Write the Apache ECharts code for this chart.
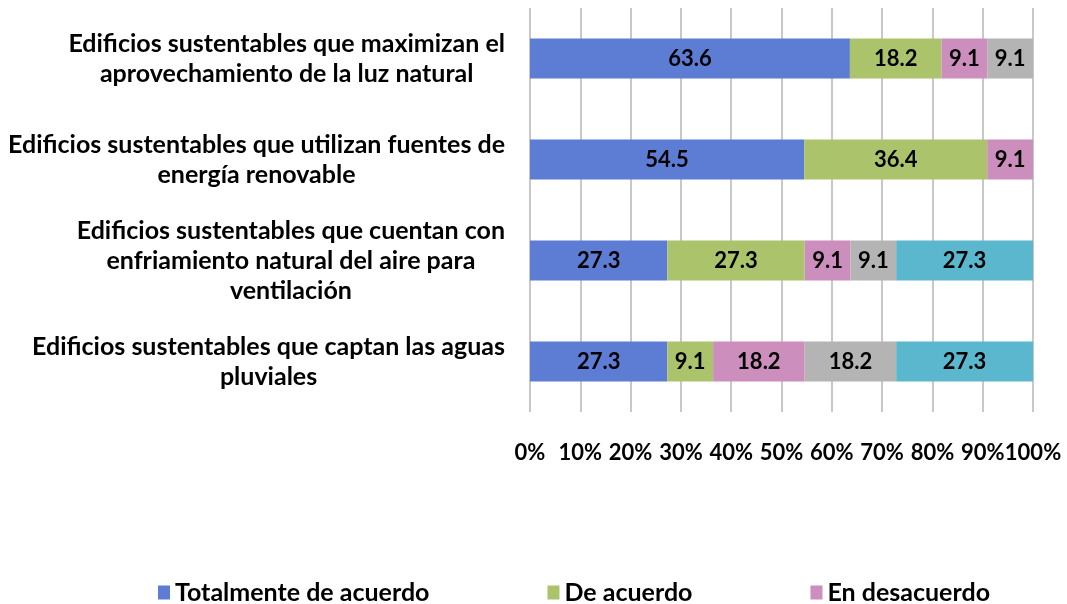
<!DOCTYPE html>
<html>
<head>
<meta charset="utf-8">
<script src="https://cdn.jsdelivr.net/npm/echarts@6/dist/echarts.min.js"></script>
<style>
  html, body { margin: 0; padding: 0; background: #fff; }
  #chart { width: 1067px; height: 604px; }
</style>
</head>
<body>
<div id="chart"></div>
<script>
var categories = [
  'Edificios sustentables que maximizan el\naprovechamiento de la luz natural',
  'Edificios sustentables que utilizan fuentes de\nenergía renovable',
  'Edificios sustentables que cuentan con\nenfriamiento natural del aire para\nventilación',
  'Edificios sustentables que captan las aguas\npluviales'
]
var seriesNames = ['Totalmente de acuerdo', 'De acuerdo', 'En desacuerdo', 'Totalmente en desacuerdo', 'No sabe']
var totalmenteAcuerdo = [63.6, 54.5, 27.3, 27.3]
var deAcuerdo = [18.2, 36.4, 27.3, 9.1]
var enDesacuerdo = [9.1, 9.1, 9.1, 18.2]
var totalmenteDesacuerdo = [9.1, null, 9.1, 18.2]
var noSabe = [null, null, 27.3, 27.3]
var legendNames = ['Totalmente de acuerdo', 'De acuerdo', 'En desacuerdo']

var colors = ['#5d7cd4', '#abc46c', '#cc8ebd', '#b4b4b4', '#5ab7ce']
var values = [totalmenteAcuerdo, deAcuerdo, enDesacuerdo, totalmenteDesacuerdo, noSabe]
var font = 'Lato, "Open Sans", sans-serif'

var chart = echarts.init(document.getElementById('chart'))

var series = seriesNames.map(function (name, i) {
  return {
    name: name,
    type: 'bar',
    stack: 'total',
    barWidth: 40,
    data: values[i],
    itemStyle: { color: colors[i] },
    label: {
      show: true,
      position: 'inside',
      color: '#000',
      fontFamily: font,
      fontWeight: 'bold',
      fontSize: 22,
      formatter: function (p) { return p.value.toFixed(1) }
    }
  }
})

chart.setOption({
  animation: false,
  color: colors,
  grid: { left: 530, right: 34, top: 8, bottom: 192 },
  xAxis: {
    type: 'value',
    min: 0,
    max: 100,
    interval: 10,
    axisLine: { show: false },
    axisTick: { show: false },
    splitLine: { show: true, lineStyle: { color: '#c8c8c8', width: 2 } },
    axisLabel: {
      margin: 30,
      color: '#000',
      fontFamily: font,
      fontWeight: 'bold',
      fontSize: 22,
      formatter: '{value}%'
    }
  },
  yAxis: {
    type: 'category',
    inverse: true,
    data: categories,
    axisLine: { show: false },
    axisTick: { show: false },
    axisLabel: {
      margin: 25,
      color: '#000',
      fontFamily: font,
      fontWeight: 'bold',
      fontSize: 25,
      lineHeight: 30,
      formatter: function (v) {
        return v.split('\n').map(function (l) { return '{c|' + l + '}' }).join('\n')
      },
      rich: {
        c: { align: 'center', fontFamily: font, fontWeight: 'bold', fontSize: 25, lineHeight: 30, color: '#000' }
      }
    }
  },
  legend: {
    data: legendNames,
    left: 153,
    top: 575,
    itemWidth: 12,
    itemHeight: 14,
    itemGap: 118,
    icon: 'rect',
    textStyle: { color: '#000', fontFamily: font, fontWeight: 'bold', fontSize: 25 }
  },
  series: series
})
</script>
</body>
</html>
